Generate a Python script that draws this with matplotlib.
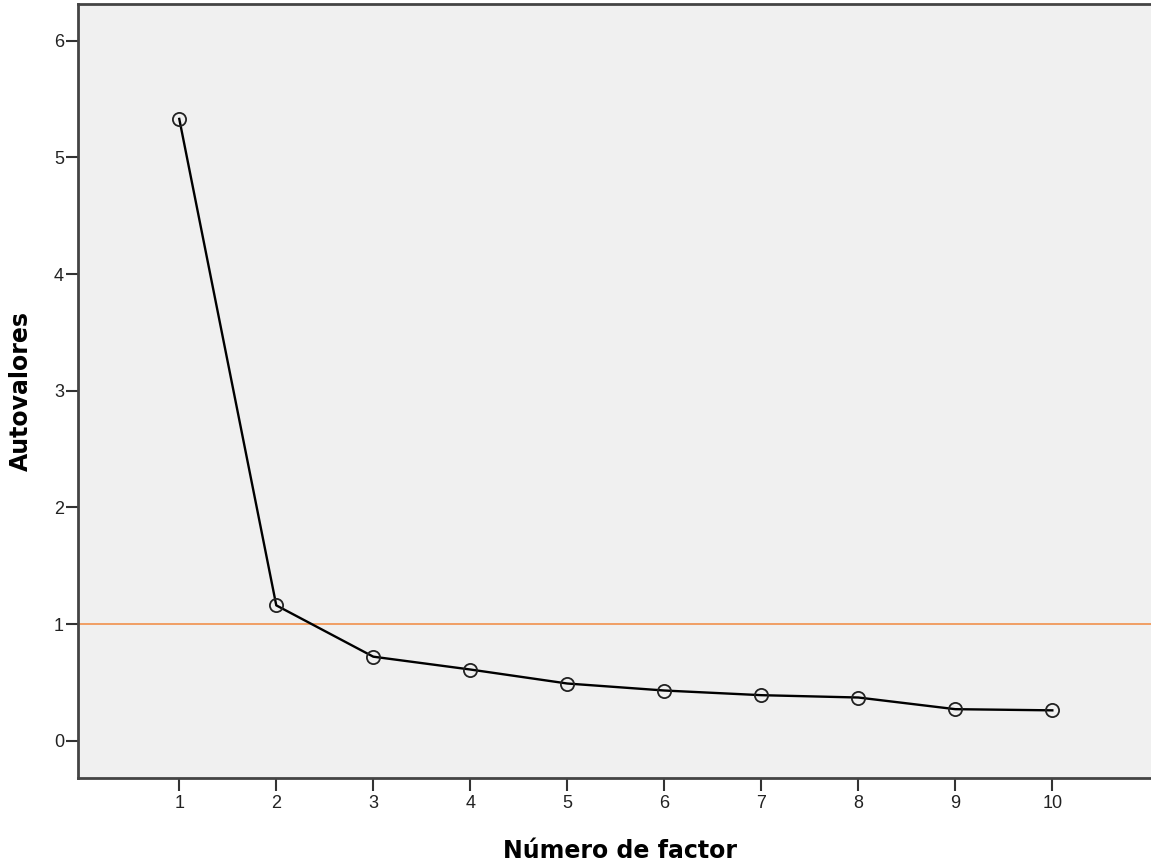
import matplotlib.pyplot as plt

plt.rcParams['font.family'] = ['Liberation Sans', 'DejaVu Sans']

factores = [1, 2, 3, 4, 5, 6, 7, 8, 9, 10]
autovalores = [5.33, 1.16, 0.72, 0.61, 0.49, 0.43, 0.39, 0.37, 0.27, 0.26]
corte = 1.0

fig = plt.figure(figsize=(11.51, 8.65), dpi=100)
ax = fig.add_axes([78 / 1151, 1 - 778 / 865, 1 - 78 / 1151 + 0.01, (778 - 4) / 865])
ax.set_facecolor('#f0f0f0')

# linea de referencia en autovalor = 1
ax.axhline(corte, color='#f0883e', linewidth=1.1, zorder=2)

ax.plot(factores, autovalores, color='black', linewidth=1.7, marker='o',
        markersize=9.5, markerfacecolor='none', markeredgecolor='#222222',
        markeredgewidth=1.3, zorder=3)

ax.set_xlim(-0.044, 11.136)
ax.set_ylim(-0.32, 6.315)
ax.set_xticks(factores)
ax.set_yticks(range(0, 7))

for lado in ['left', 'bottom', 'top', 'right']:
    ax.spines[lado].set_color('#444444')
    ax.spines[lado].set_linewidth(2)

ax.tick_params(axis='both', direction='out', length=9, width=1.5,
               color='#333333', labelsize=13, labelcolor='#222222')
ax.tick_params(axis='y', pad=1)
ax.tick_params(axis='x', pad=3)

ax.set_xlabel('Número de factor', fontsize=17, fontweight='bold', labelpad=20,
              family=['DejaVu Sans'])
ax.set_ylabel('Autovalores', fontsize=17, fontweight='bold', labelpad=15,
              family=['DejaVu Sans'])

fig.savefig('out.png', dpi=100)
